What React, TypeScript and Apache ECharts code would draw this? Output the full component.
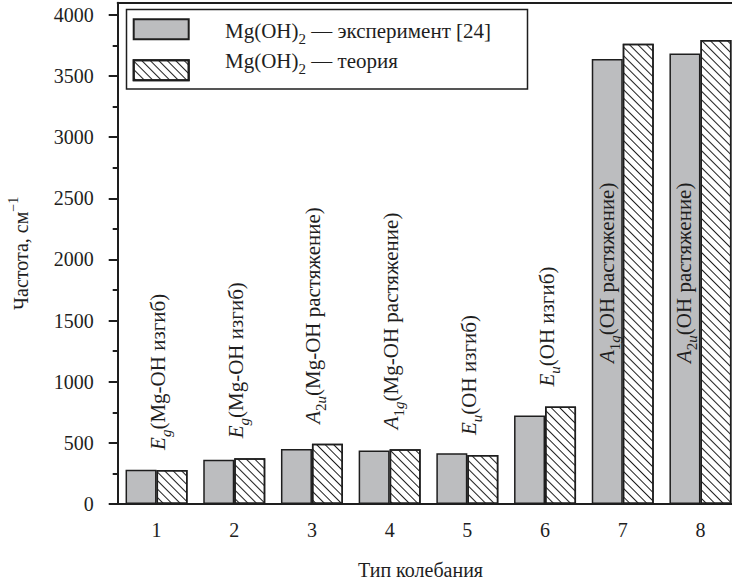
import React, { useEffect, useRef } from "react";
import * as echarts from "echarts";

const categories = ["1", "2", "3", "4", "5", "6", "7", "8"];
const experiment = [280, 361, 450, 438, 415, 723, 3640, 3685];
const theory = [279, 374, 492, 448, 401, 797, 3764, 3795];
const modeLabels = [
  "{i|E}{s|g}{r|(Mg-OH изгиб)}",
  "{i|E}{s|g}{r|(Mg-OH изгиб)}",
  "{i|A}{n|2}{s|u}{r|(Mg-OH растяжение)}",
  "{i|A}{n|1}{s|g}{r|(Mg-OH растяжение)}",
  "{i|E}{s|u}{r|(OH изгиб)}",
  "{i|E}{s|u}{r|(OH изгиб)}",
  "{i|A}{n|1}{s|g}{r|(OH растяжение)}",
  "{i|A}{n|2}{s|u}{r|(OH растяжение)}",
];
const insideLabelIdx = [6, 7];
const yMajorTicks = [0, 500, 1000, 1500, 2000, 2500, 3000, 3500, 4000];
const yMinorTicks = [250, 750, 1250, 1750, 2250, 2750, 3250, 3750];
const seriesNames = ["Mg(OH)2 — эксперимент [24]", "Mg(OH)2 — теория"];
const legendTexts = [
  "{r|Mg(OH)}{sub|2}{r| — эксперимент [24]}",
  "{r|Mg(OH)}{sub|2}{r| — теория}",
];

const FONT = "Liberation Serif";
const INK = "#1e1e1e";
const GRAY = "#bcbdbf";

const labelRich = {
  r: { fontSize: 21, fontFamily: FONT, color: INK },
  i: { fontStyle: "italic", fontSize: 21, fontFamily: FONT, color: INK },
  n: { fontSize: 15, fontFamily: FONT, color: INK, verticalAlign: "bottom", padding: [0, 0, -5, 0] },
  s: { fontStyle: "italic", fontSize: 15, fontFamily: FONT, color: INK, verticalAlign: "bottom", padding: [0, 0, -5, 0] },
};

export default function App() {
  const ref = useRef<HTMLDivElement>(null);
  useEffect(() => {
    if (!ref.current) return;
    const chart = echarts.init(ref.current, null, { renderer: "svg" });
    const hatch = {
      symbol: "rect",
      symbolSize: 1,
      dashArrayX: [[1, 0]],
      dashArrayY: [1, 5],
      rotation: Math.PI / 4,
      color: INK,
    };
    const baseX = {
      type: "category",
      data: categories,
      boundaryGap: true,
    };
    const option = {
      animation: false,
      textStyle: { fontFamily: FONT },
      grid: { left: 117.7, top: 2.7, width: 621.6, height: 501.3, outerBoundsMode: "none", containLabel: false },
      legend: {
        data: seriesNames,
        orient: "vertical",
        left: 132.7,
        top: 18.3,
        padding: 0,
        itemWidth: 55,
        itemHeight: 20,
        itemGap: 19,
        icon: "rect",
        formatter: () => "",
        selectedMode: false,
      },
      xAxis: [
        {
          ...baseX,
          position: "bottom",
          axisLine: { lineStyle: { color: INK, width: 2 } },
          axisTick: { alignWithLabel: true, length: 9, lineStyle: { color: INK, width: 2 } },
          axisLabel: { fontSize: 20, fontFamily: FONT, color: INK, margin: 16 },
          name: "Тип колебания",
          nameLocation: "middle",
          nameGap: 56,
          nameTextStyle: { fontSize: 20, fontFamily: FONT, color: INK, padding: [0, 16, 0, 0] },
          splitLine: { show: false },
        },
        {
          ...baseX,
          position: "bottom",
          axisLine: { show: false },
          axisTick: { alignWithLabel: false, length: 4, lineStyle: { color: INK, width: 2 } },
          axisLabel: { show: false },
          splitLine: { show: false },
        },
        {
          ...baseX,
          position: "top",
          axisLine: { lineStyle: { color: INK, width: 2 } },
          axisTick: { alignWithLabel: true, inside: true, length: 3, lineStyle: { color: INK, width: 1.5 } },
          axisLabel: { show: false },
          splitLine: { show: false },
        },
        {
          ...baseX,
          position: "top",
          axisLine: { show: false },
          axisTick: { alignWithLabel: false, inside: true, length: 3, lineStyle: { color: INK, width: 1.5 } },
          axisLabel: { show: false },
          splitLine: { show: false },
        },
      ],
      yAxis: [
        {
          type: "value",
          min: 0,
          max: 4100,
          interval: 500,
          position: "left",
          axisLine: { show: true, lineStyle: { color: INK, width: 2 } },
          axisTick: { show: true, length: 9, customValues: yMajorTicks, lineStyle: { color: INK, width: 2 } },
          axisLabel: {
            fontSize: 20,
            fontFamily: FONT,
            color: INK,
            margin: 24,
            customValues: yMajorTicks,
            formatter: (v: number) => String(v),
          },
          splitLine: { show: false },
          name: "{a|Частота, см}{sup|−1}",
          nameLocation: "middle",
          nameGap: 87,
          nameRotate: 90,
          nameTextStyle: {
            fontSize: 20,
            fontFamily: FONT,
            color: INK,
            rich: {
              a: { fontSize: 20, fontFamily: FONT, color: INK },
              sup: { fontSize: 14, fontFamily: FONT, color: INK, verticalAlign: "top", padding: [-4, 0, 0, 0] },
            },
          },
        },
        {
          type: "value",
          min: 0,
          max: 4100,
          interval: 250,
          position: "left",
          axisLine: { show: false },
          axisTick: { show: true, length: 5, customValues: yMinorTicks, lineStyle: { color: INK, width: 2 } },
          axisLabel: { show: false },
          splitLine: { show: false },
        },
      ],
      graphic: [
        {
          type: "rect",
          shape: { x: 126.5, y: 9.5, width: 401, height: 79.5 },
          style: { fill: "none", stroke: INK, lineWidth: 1.5 },
          z: 10,
        },
        ...legendTexts.map((t, k) => ({
          type: "text",
          x: 225,
          y: k === 0 ? 31 : 61,
          z: 10,
          style: {
            text: t,
            fontSize: 21,
            fontFamily: FONT,
            fill: INK,
            verticalAlign: "middle",
            rich: {
              r: { fontSize: 21, fontFamily: FONT, fill: INK },
              sub: { fontSize: 15, fontFamily: FONT, fill: INK, verticalAlign: "bottom", padding: [0, 0, -5, 0] },
            },
          },
        })),
      ],
      series: [
        {
          name: seriesNames[0],
          type: "bar",
          xAxisIndex: 0,
          yAxisIndex: 0,
          barWidth: 31,
          barGap: "0%",
          data: experiment,
          itemStyle: { color: GRAY, borderColor: INK, borderWidth: 1.5 },
        },
        {
          name: seriesNames[1],
          type: "bar",
          xAxisIndex: 0,
          yAxisIndex: 0,
          barWidth: 31,
          barGap: "0%",
          itemStyle: { color: "#ffffff", borderColor: INK, borderWidth: 1.5, decal: hatch },
          label: {
            show: true,
            position: "top",
            rotate: 90,
            align: "left",
            verticalAlign: "middle",
            distance: 20,
            offset: [0, -14],
            fontSize: 21,
            fontFamily: FONT,
            color: INK,
            formatter: (p: any) => modeLabels[p.dataIndex],
            rich: labelRich,
          },
          data: theory.map((v, i) =>
            insideLabelIdx.includes(i)
              ? { value: v, label: { position: "insideBottom", distance: 141, offset: [0, -31.5] } }
              : v
          ),
        },
      ],
    };
    chart.setOption(option as any);
    return () => chart.dispose();
  }, []);
  return (
    <div
      ref={ref}
      style={{ position: "fixed", left: 0, top: 0, width: 732, height: 584, background: "#fff" }}
    />
  );
}
